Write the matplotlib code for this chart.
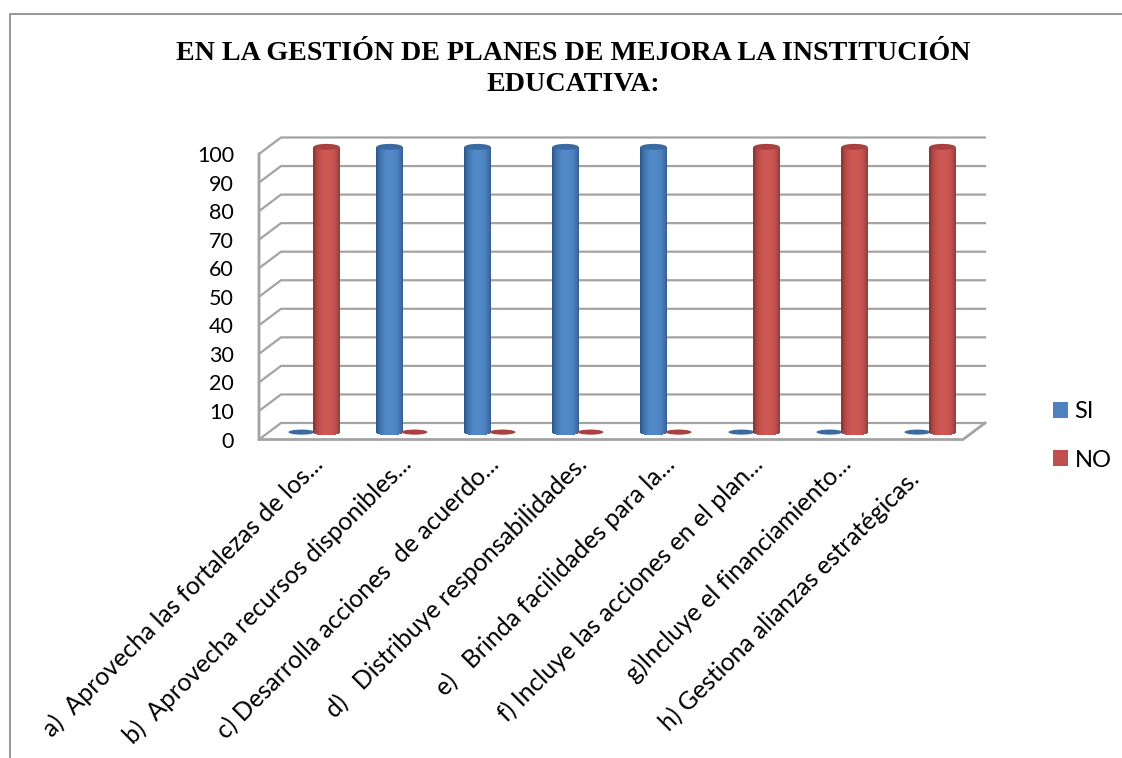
import numpy as np
import matplotlib
matplotlib.use("Agg")
import matplotlib.pyplot as plt
from matplotlib.patches import Ellipse, Patch
from matplotlib.lines import Line2D
from matplotlib.colors import to_rgb
from matplotlib.transforms import ScaledTranslation

title = "EN LA GESTIÓN DE PLANES DE MEJORA LA INSTITUCIÓN\nEDUCATIVA:"
categories = [
    "a)  Aprovecha las fortalezas de los...",
    "b)  Aprovecha recursos disponibles...",
    "c) Desarrolla acciones  de acuerdo...",
    "d)   Distribuye responsabilidades.",
    "e)   Brinda facilidades para la...",
    "f) Incluye las acciones en el plan...",
    "g)Incluye el financiamiento...",
    "h) Gestiona alianzas estratégicas.",
]
si_values = [0, 100, 100, 100, 100, 0, 0, 0]
no_values = [100, 0, 0, 0, 0, 100, 100, 100]
y_ticks = list(range(0, 101, 10))

W, H = 1122, 758
L, R, T, B = 259, 963, 154, 439.5
DX = 22 / ((R - L) / 8)          # depth shift, category units
DY = 16.5 / ((B - T) / 100)      # depth shift, value units
UNIT_Y = (B - T) / 100
GRID = "#a3a3a3"
FONT = "Lato"

fig = plt.figure(figsize=(W / 100, H / 100), dpi=100, facecolor="white")
ax = fig.add_axes([L / W, 1 - B / H, (R - L) / W, (B - T) / H])
ax.set_xlim(0, 8)
ax.set_ylim(0, 100)
ax.patch.set_visible(False)
for s in ax.spines.values():
    s.set_visible(False)

# outer frame
fig.add_artist(Line2D([10 / W, 10 / W, 1], [0, 1 - 14 / H, 1 - 14 / H],
                      color="#8f8f8f", lw=1.3, transform=fig.transFigure))

# 3-D walls
for t in y_ticks:
    ax.plot([0, DX, 8 + DX], [t, t + DY, t + DY], color=GRID, lw=1.6,
            clip_on=False, zorder=1, solid_joinstyle="miter")
ax.plot([0, 0, 8, 8 + DX], [100, 0, 0, DY], color=GRID, lw=2.0,
        clip_on=False, zorder=1.5, solid_joinstyle="miter")


def cylinder(x, value, edge, mid, cap, z):
    bw = 26 / ((R - L) / 8)
    h_top = 6.0 / UNIT_Y
    h_bot = 3.0 / UNIT_Y
    y0 = DY * 0.5 - 0.4
    if value <= 0:
        ax.add_patch(Ellipse((x, y0 + 0.1), bw, h_top * 0.85, facecolor=cap, edgecolor="none",
                             zorder=z, clip_on=False))
        return
    n = 40
    ts = (np.arange(n) + 0.5) / n * 2 - 1
    edge_c, mid_c = np.array(to_rgb(edge)), np.array(to_rgb(mid))
    blend = 1 - np.abs(ts - 0.05) ** 2.6
    colors = [tuple(edge_c + (mid_c - edge_c) * np.clip(b, 0, 1)) for b in blend]
    bottoms = y0 - h_bot * np.sqrt(1 - ts ** 2)
    tops = y0 + value
    ax.bar(x + ts * bw / 2, tops - bottoms, bottom=bottoms, width=bw / n * 1.15,
           color=colors, linewidth=0, zorder=z, clip_on=False)
    ax.add_patch(Ellipse((x, tops), bw, h_top, facecolor=cap, edgecolor="none",
                         zorder=z + 0.01, clip_on=False))


mid_depth = DX * 0.5
side = 12.5 / ((R - L) / 8)
for i, (s, n) in enumerate(zip(si_values, no_values)):
    cx = i + 0.5 + mid_depth
    cylinder(cx - side, s, "#2f5b8c", "#5289c9", "#3a6a9f", 3 + i)
    cylinder(cx + side, n, "#8b3836", "#cf5754", "#a8413f", 3.5 + i)

# ticks
ax.set_yticks(y_ticks)
ax.set_yticklabels([str(v) for v in y_ticks], fontsize=15.5, family=FONT, color="black")
ax.tick_params(axis="y", length=0, pad=18)
ax.set_xticks(np.arange(8) + 0.5)
ax.set_xticklabels(categories, rotation=45, ha="right", va="top", rotation_mode="anchor",
                   fontsize=17.8, family=FONT, color="black")
ax.tick_params(axis="x", length=0, pad=9)
for k, lab in enumerate(ax.get_xticklabels()):
    # the last label sits further back along its slant, as in the reference
    dx_px, dy_px = (-12, -15) if k == len(categories) - 1 else (8, 0)
    lab.set_transform(lab.get_transform()
                      + ScaledTranslation(dx_px / 100, dy_px / 100, fig.dpi_scale_trans))

# title
fig.text(573 / W, 1 - 69 / H, title, ha="center", va="center", family="Liberation Serif",
         fontweight="bold", fontsize=20.2, linespacing=1.28, color="black")

# legend
handles = [Patch(facecolor="#4f81bd", label="SI"), Patch(facecolor="#c0504d", label="NO")]
fig.legend(handles=handles, loc="center left", bbox_to_anchor=(1053 / W, 1 - 436 / H),
           frameon=False, prop={"family": FONT, "size": 17}, handlelength=0.64, handleheight=0.64,
           handletextpad=0.27, labelspacing=1.15, borderpad=0, borderaxespad=0)

fig.savefig("out.png", dpi=100)
